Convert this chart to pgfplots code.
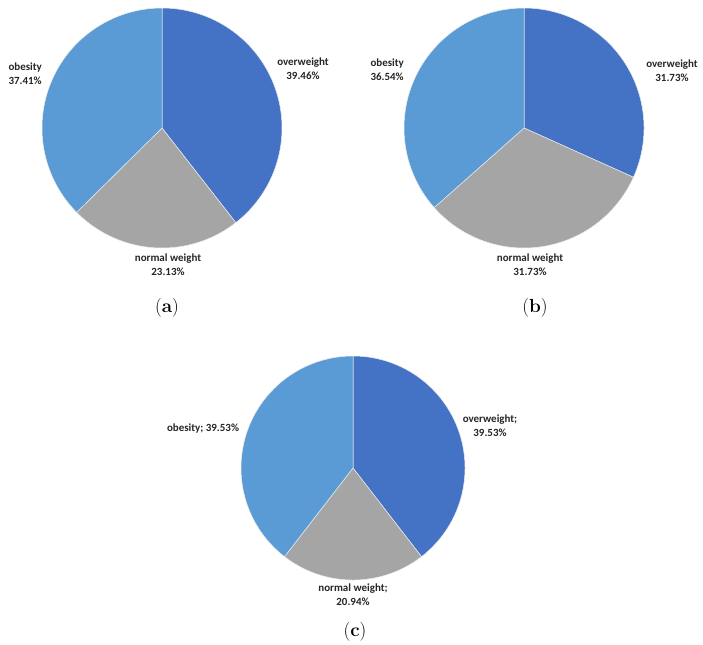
\documentclass[border=0pt]{standalone}
\usepackage{pgfplots}
\pgfplotsset{compat=1.18}
\usepackage{fontspec}
\setsansfont{Carlito}

\definecolor{owcol}{HTML}{4472C4}
\definecolor{nwcol}{HTML}{A5A5A5}
\definecolor{obcol}{HTML}{5B9BD5}

% one wedge: share in %, colour; wedges run clockwise from 12 o'clock
\gdef\piecum{0}
\newcommand\pieslice[2]{%
  \pgfmathsetmacro\pieStart{90-3.6*\piecum}%
  \pgfmathsetmacro\pieEnd{90-3.6*(\piecum+#1)}%
  \addplot[fill=#2, draw=white!85!gray, line width=0.5bp, domain=\pieEnd:\pieStart,
    samples=120, variable=\t] ({cos(\t)}, {sin(\t)}) -- (axis cs:0,0) -- cycle;
  \pgfmathsetmacro\piecumnew{\piecum+#1}%
  \global\let\piecum\piecumnew
}

\pgfplotsset{pie/.style={hide axis, clip=false, anchor=center,
  xmin=-1, xmax=1, ymin=-1, ymax=1, x=#1, y=#1}}

\tikzset{lab/.style={font=\sffamily\bfseries\fontsize{11}{14}\selectfont, align=center, text=black!85},
  subcap/.style={font=\fontsize{19}{22}\selectfont}}

\begin{document}
\begin{tikzpicture}[x=1bp, y=1bp]
\useasboundingbox (0,0) rectangle (703,-645);

% (a)
\begin{axis}[pie=120bp, at={(162bp,-128bp)}]
  \gdef\piecum{0}
  \pieslice{39.46}{owcol}
  \pieslice{23.13}{nwcol}
  \pieslice{37.41}{obcol}
\end{axis}
\node[lab] at (303,-69) {overweight\\39.46\%};
\node[lab, align=left, anchor=west] at (5,-74) {obesity\\37.41\%};
\node[lab] at (168,-265) {normal weight\\23.13\%};
\node[subcap] at (167,-308) {(\textbf{a})};

% (b)
\begin{axis}[pie=120bp, at={(524bp,-128bp)}]
  \gdef\piecum{0}
  \pieslice{31.73}{owcol}
  \pieslice{31.73}{nwcol}
  \pieslice{36.54}{obcol}
\end{axis}
\node[lab] at (672,-71) {overweight\\31.73\%};
\node[lab, align=left, anchor=west] at (367,-70) {obesity\\36.54\%};
\node[lab] at (530,-265) {normal weight\\31.73\%};
\node[subcap] at (535,-308) {(\textbf{b})};

% (c)
\begin{axis}[pie=112bp, at={(353bp,-468bp)}]
  \gdef\piecum{0}
  \pieslice{39.53}{owcol}
  \pieslice{20.94}{nwcol}
  \pieslice{39.53}{obcol}
\end{axis}
\node[lab] at (490,-426) {overweight;\\39.53\%};
\node[lab] at (203,-429) {obesity; 39.53\%};
\node[lab] at (353,-595) {normal weight;\\20.94\%};
\node[subcap] at (355,-632) {(\textbf{c})};
\end{tikzpicture}
\end{document}
